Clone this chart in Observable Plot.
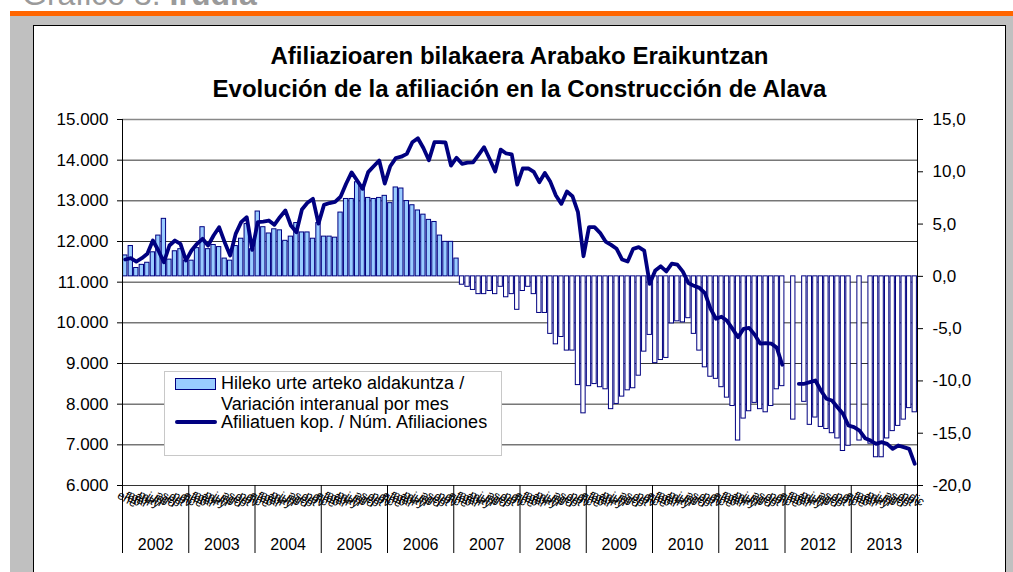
<!DOCTYPE html>
<html>
<head>
<meta charset="utf-8">
<script src="https://cdn.jsdelivr.net/npm/d3@7"></script>
<script src="https://cdn.jsdelivr.net/npm/@observablehq/plot@0.6"></script>
<style>
  html, body { margin: 0; padding: 0; background: #fff; }
  body { font-family: "Liberation Sans", Arial, sans-serif; }
  #page { position: relative; width: 1013px; height: 572px; overflow: hidden; background: #fff; }
  .abs { position: absolute; }
  #hdr { left: 22px; top: -22px; font-size: 32px; line-height: 32px; color: #9a9a9a; white-space: nowrap; }
  #orange { left: 10px; top: 11px; width: 1003px; height: 5px; background: #FF6600; }
  #gray { left: 10px; top: 16px; width: 1003px; height: 556px; background: #C0C0C0; }
  #box { left: 33px; top: 25px; width: 971px; height: 560px; background: #fff; border: 1px solid #000; }
  .ttl { left: 33px; width: 973px; text-align: center; font-size: 24px; line-height: 24px; font-weight: bold; color: #000; white-space: nowrap; }
  #chart { left: 0; top: 0; }
  #legend { left: 164px; top: 371px; width: 336px; height: 83px; background: #fff; border: 1px solid #c8c8c8; }
  .lt { font-size: 18px; line-height: 15px; color: #000; white-space: nowrap; left: 221px; }
</style>
</head>
<body>
<div id="page">
  <div id="hdr" class="abs">Gráfico 3: <b>Irudia</b></div>
  <div id="orange" class="abs"></div>
  <div id="gray" class="abs"></div>
  <div id="box" class="abs"></div>
  <div id="chart" class="abs"></div>
  <div class="abs ttl" style="top:44px">Afiliazioaren bilakaera Arabako Eraikuntzan</div>
  <div class="abs ttl" style="top:77px">Evolución de la afiliación en la Construcción de Alava</div>
  <div id="legend" class="abs"></div>
  <div class="abs" style="left:175px;top:378px;width:39px;height:10px;background:#99CCFF;border:1px solid #000080;"></div>
  <div class="abs lt" style="top:376px">Hileko urte arteko aldakuntza /</div>
  <div class="abs lt" style="top:397px">Variación interanual por mes</div>
  <div class="abs" style="left:175px;top:420px;width:42px;height:4px;background:#000080;border-radius:2px;"></div>
  <div class="abs lt" style="top:415px">Afiliatuen kop. / Núm. Afiliaciones</div>
</div>
<script>
const years = [2002, 2003, 2004, 2005, 2006, 2007, 2008, 2009, 2010, 2011, 2012, 2013];
const monthNames = ["ene", "feb", "mar", "abr", "may", "jun", "jul", "ago", "sep", "oct", "nov", "dic"];

// Variación interanual por mes (%), right axis
const variation = [
  2.0, 2.9, 0.8, 1.1, 1.3, 2.3, 3.9, 5.5, 1.6, 2.4, 2.6, 1.5,
  1.5, 2.7, 4.7, 2.6, 3.0, 2.8, 1.7, 1.5, 2.9, 3.6, 5.0, 2.6,
  6.2, 4.7, 4.1, 4.5, 4.4, 3.4, 3.8, 5.1, 4.2, 4.2, 3.6, 5.1,
  3.8, 3.8, 3.7, 6.1, 7.4, 7.4, 9.0, 8.4, 7.5, 7.4, 7.5, 7.7,
  7.0, 8.5, 8.4, 7.2, 6.8, 6.3, 5.9, 5.4, 5.2, 3.9, 3.3, 3.3,
  1.7, -0.8, -1.0, -1.3, -1.7, -1.7, -1.4, -1.7, -1.0, -2.0, -1.7, -3.2,
  -1.4, -1.0, -1.7, -3.5, -3.5, -5.5, -6.5, -5.8, -7.1, -7.1, -10.4, -13.1,
  -10.5, -10.3, -10.6, -10.8, -12.7, -12.2, -11.5, -10.9, -10.7, -9.5, -7.2, -5.6,
  -8.3, -8.0, -7.8, -4.5, -4.3, -4.4, -4.0, -5.5, -7.1, -8.7, -9.6, -9.8,
  -10.6, -11.6, -12.4, -15.7, -13.6, -12.9, -12.1, -12.7, -13.0, -12.4, -10.8, -10.5,
  null, -13.7, null, -12.0, -14.2, -13.5, -14.4, -14.6, -15.0, -15.5, -16.7, -16.2,
  null, -15.7, null, -16.0, -17.3, -17.3, -15.5, -14.8, -14.3, -13.7, -12.6, -13.0
];

// Núm. Afiliaciones, left axis
const affiliations = [
  11557, 11589, 11508, 11589, 11697, 12024, 11778, 11490, 11901, 12024, 11943, 11532,
  11778, 11943, 12066, 11901, 12147, 12352, 11983, 11655, 12188, 12475, 12598, 11795,
  12475, 12491, 12516, 12410, 12598, 12762, 12393, 12229, 12786, 12951, 13049, 12440,
  12900, 12945, 12975, 13100, 13420, 13700, 13499, 13295, 13705, 13850, 13991, 13425,
  13850, 14050, 14085, 14155, 14440, 14540, 14300, 14000, 14442, 14442, 14434, 13868,
  14060, 13910, 13940, 13946, 14130, 14318, 14030, 13721, 14258, 14165, 14143, 13400,
  13795, 13800, 13713, 13458, 13685, 13467, 13131, 12926, 13229, 13114, 12721, 11638,
  12352, 12352, 12213, 11999, 11918, 11820, 11557, 11508, 11820, 11860, 11778, 10959,
  11286, 11390, 11265, 11458, 11430, 11258, 10980, 10910, 10860, 10730, 10350, 10100,
  10150, 10050, 9853, 9647, 9853, 9877, 9710, 9490, 9500, 9490, 9390, 8970,
  null, null, 8501, 8501, 8542, 8582, 8336, 8132, 8090, 7926, 7763, 7475,
  7434, 7352, 7163, 7106, 7025, 7065, 7025, 6902, 6983, 6942, 6902, 6533
];

const leftTicks = [6000, 7000, 8000, 9000, 10000, 11000, 12000, 13000, 14000, 15000];
const rightTicks = [-20, -15, -10, -5, 0, 5, 10, 15];

// map left-axis values onto the right-axis (y scale) domain
const L0 = 6000, L1 = 15000, R0 = -20, R1 = 15;
const toRight = a => R0 + (a - L0) * (R1 - R0) / (L1 - L0);
const toLeft = r => L0 + (r - R0) * (L1 - L0) / (R1 - R0);

const rows = variation.map((v, i) => ({
  i, v, a: affiliations[i], m: monthNames[i % 12], year: years[Math.floor(i / 12)]
}));
const nMonths = rows.length;
const yearBounds = years.map((y, k) => k * 12).concat([nMonths]);
const yearCenters = years.map((y, k) => k * 12 + 6);

const fmtLeft = d => d3.format(",")(Math.round(toLeft(d))).replace(/,/g, ".");
const fmtRight = d => d.toFixed(1).replace(".", ",");

const chart = Plot.plot({
  width: 1013,
  height: 572,
  marginLeft: 122,
  marginRight: 96,
  marginTop: 119,
  marginBottom: 87,
  x: { type: "linear", domain: [0, nMonths], axis: null, label: null },
  y: { domain: [R0, R1], axis: null, label: null },
  style: { fontFamily: "'Liberation Sans', Arial, sans-serif", background: "transparent", color: "#000", overflow: "visible" },
  marks: [
    Plot.ruleY(leftTicks.slice(0, -1).map(toRight), { stroke: "#333", strokeWidth: 1 }),
    Plot.ruleY([toRight(15000)], { stroke: "#888", strokeWidth: 1.5 }),
    Plot.rectY(rows.filter(d => d.v != null), {
      x1: d => d.i, x2: d => d.i + 1, y1: 0, y2: "v",
      insetLeft: 0.6, insetRight: 0.6,
      fill: d => d.v >= 0 ? "#99CCFF" : "#ffffff",
      stroke: "#000080", strokeWidth: 1
    }),
    Plot.lineY(rows, {
      x: d => d.i + 0.5,
      y: d => d.a == null ? NaN : toRight(d.a),
      stroke: "#000080", strokeWidth: 3.8, strokeLinejoin: "round", strokeLinecap: "round"
    }),
    Plot.ruleX([0, nMonths], { stroke: "#000", strokeWidth: 1 }),
    Plot.axisY(leftTicks.map(toRight), {
      anchor: "left", label: null, tickSize: 5, tickPadding: 9, fontSize: 17, tickFormat: fmtLeft
    }),
    Plot.axisY(rightTicks, {
      anchor: "right", label: null, tickSize: 5, tickPadding: 10, fontSize: 17, tickFormat: fmtRight
    }),
    Plot.axisX(yearBounds, { anchor: "bottom", label: null, tickSize: 68, tickFormat: () => "" }),
    Plot.axisX(yearCenters, {
      anchor: "bottom", label: null, tickSize: 0, tickPadding: 53, fontSize: 16,
      tickFormat: d => String(years[(d - 6) / 12])
    }),
    Plot.text(rows, {
      x: d => d.i + 0.5, frameAnchor: "bottom", text: "m",
      rotate: 30, dy: 17, fontSize: 12, fill: "#000"
    })
  ]
});
document.getElementById("chart").appendChild(chart);
</script>
</body>
</html>
